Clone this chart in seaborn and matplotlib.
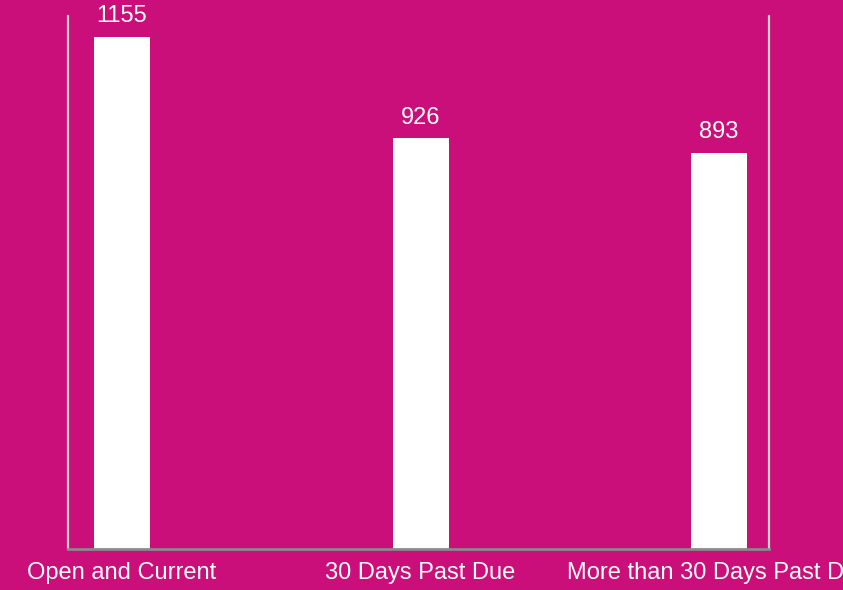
import matplotlib
matplotlib.use("Agg")
import matplotlib.pyplot as plt
import seaborn as sns
import pandas as pd

categories = ["Open and Current", "30 Days Past Due", "More than 30 Days Past Due"]
values = [1155, 926, 893]

BG = "#CA0E7A"
sns.set_style("white")
plt.rcParams["font.family"] = ["Liberation Sans", "DejaVu Sans"]

fig = plt.figure(figsize=(8.43, 5.90), dpi=100, facecolor=BG)
ax = fig.add_axes([68/843, 41/590, (769-68)/843, (549-16)/590])
ax.set_facecolor(BG)

df = pd.DataFrame({"cat": categories, "val": values})
sns.barplot(data=df, x="cat", y="val", color="white", saturation=1,
            width=0.188, ax=ax, edgecolor="none")

ax.set_xlim(-0.181, 2.167)
ax.set_ylim(0, 1202)
ax.set_xlabel("")
ax.set_ylabel("")
ax.set_yticks([])
ax.tick_params(axis="x", length=0, pad=9.5, labelsize=17, colors="white")
for lbl in ax.get_xticklabels():
    lbl.set_clip_on(False)

for c in ax.containers:
    ax.bar_label(c, labels=[str(v) for v in values], padding=7,
                 fontsize=17, color="white")

ax.spines["top"].set_visible(False)
for s in ("left", "right"):
    ax.spines[s].set_color("#D0D0D0")
    ax.spines[s].set_linewidth(1.6)
ax.spines["bottom"].set_color("#8A8A8A")
ax.spines["bottom"].set_linewidth(2)

fig.savefig("out.png", dpi=100, facecolor=BG)
